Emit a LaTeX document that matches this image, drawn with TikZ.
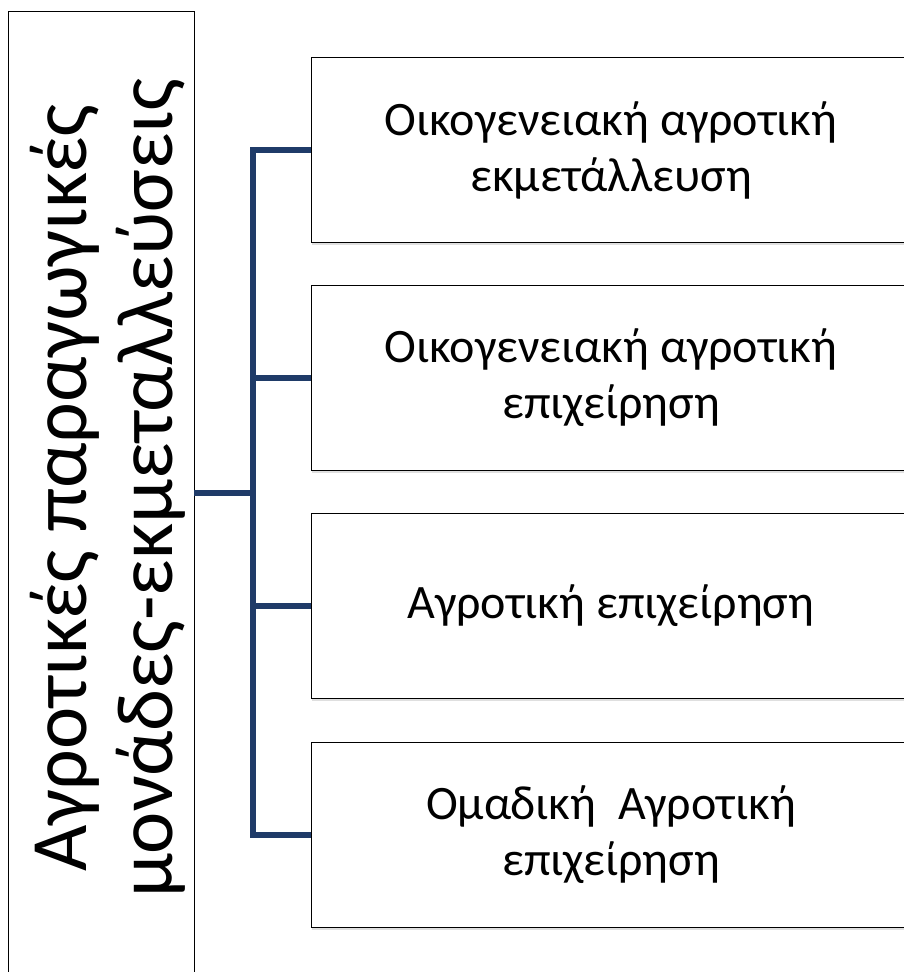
\documentclass[tikz,border=0pt]{standalone}
\usepackage{fontspec}
\setmainfont{Carlito}
\usetikzlibrary{shadows}
\definecolor{navy}{HTML}{1F3B68}

\begin{document}
\begin{tikzpicture}[x=1pt,y=-1pt,
    box/.style={draw,thick,fill=white,drop shadow={opacity=0.25,shadow xshift=1pt,shadow yshift=-2pt}},
    leaf/.style={box,minimum width=600pt,minimum height=185pt,align=center,font=\fontsize{48}{56}\selectfont},
    link/.style={navy,line width=5.5pt}]
    \useasboundingbox (0,0) rectangle (903,972);
    \node[box,minimum width=186pt,minimum height=974pt] (root) at (101,498) {};
    \node[rotate=90,align=center,font=\fontsize{80}{86}\selectfont] (rootlabel) at (108,488) {Αγροτικές παραγωγικές\\μονάδες-εκμεταλλεύσεις};
    \node[leaf] (b1) at (611,150) {Οικογενειακή αγροτική\\εκμετάλλευση};
    \node[leaf] (b2) at (611,378) {Οικογενειακή αγροτική\\επιχείρηση};
    \node[leaf] (b3) at (611,606) {Αγροτική επιχείρηση};
    \node[leaf] (b4) at (611,835) {Ομαδική\ \ Αγροτική\\επιχείρηση};
    \coordinate (hub) at (253,493);
    \draw[link] (root.east |- hub) -- (hub);
    \draw[link] (b1.west) -| (hub |- b1.west) -- (hub |- b4.west) -- (b4.west);
    \draw[link] (hub |- b2.west) -- (b2.west);
    \draw[link] (hub |- b3.west) -- (b3.west);
  \end{tikzpicture}
\end{document}
